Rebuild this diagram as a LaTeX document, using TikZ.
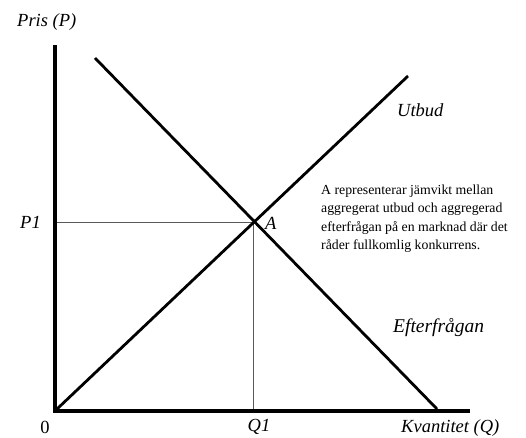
\documentclass[tikz,border=0pt]{standalone}
\usepackage{fontspec}
\setmainfont{Liberation Serif}
\begin{document}
\begin{tikzpicture}[x=1pt,y=-1pt,
  axis/.style={line width=4.5pt},
  curve/.style={line width=2.8pt},
  guide/.style={line width=0.9pt,gray!70!black},
  lab/.style={font=\fontsize{18.5}{21}\selectfont\itshape,inner sep=0pt},
  note/.style={font=\fontsize{13.8}{18.2}\selectfont,align=left,anchor=north west,inner sep=0pt}]
\useasboundingbox (0,0) rectangle (526,437);
\coordinate (Ytop) at (55,45);
\coordinate (Ybot) at (55,411);
\coordinate (Xend) at (470,411);
\coordinate (S0) at (57,409);
\coordinate (S1) at (408,76);
\coordinate (D0) at (95,58);
\coordinate (D1) at (437,409);
\coordinate (A) at (253,222);
\coordinate (P1c) at (57,222);
\coordinate (Q1c) at (253,409);
\draw[guide] (P1c) -- (A) -- (Q1c);
\draw[curve] (S0) -- (S1);
\draw[curve] (D0) -- (D1);
\draw[axis] (Ytop) -- (Ybot) -- (Xend);
\node[lab,anchor=west] (pris) at (17,22) {Pris (P)};
\node[lab,anchor=west] (p1) at (20,222) {P1};
\node[lab,anchor=west] (alab) at (265,223) {A};
\node[lab,anchor=west] (utbud) at (397,110) {Utbud};
\node[lab,anchor=west,font=\fontsize{19.5}{21}\selectfont\itshape] (efter) at (393,328) {Efterfrågan};
\node[lab,font=\fontsize{18.5}{21}\selectfont] (zero) at (45,427) {0};
\node[lab] (q1) at (259,427) {Q1};
\node[lab,anchor=west] (kv) at (401,428) {Kvantitet (Q)};
\node[note] (txt) at (321,185) {A representerar jämvikt mellan\\aggregerat utbud och aggregerad\\efterfrågan på en marknad där det\\råder fullkomlig konkurrens.};
\end{tikzpicture}
\end{document}
